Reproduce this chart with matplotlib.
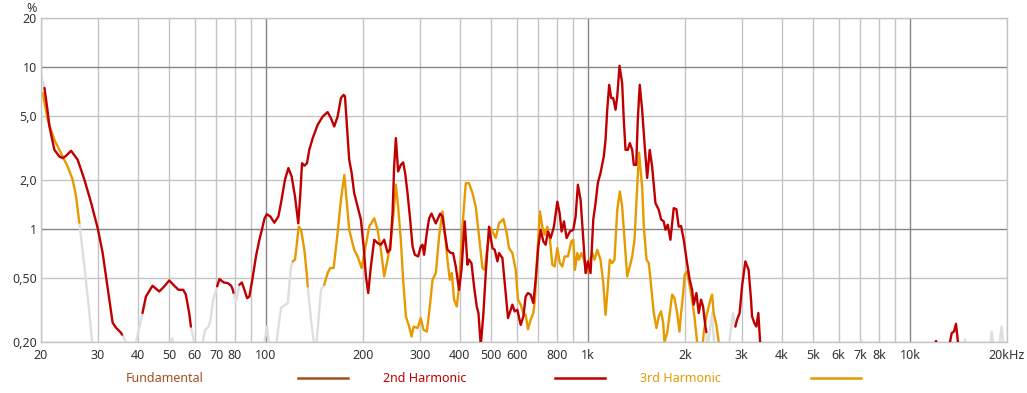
import numpy as np
import matplotlib
matplotlib.use("Agg")
import matplotlib.pyplot as plt
from matplotlib.lines import Line2D
from matplotlib.ticker import NullFormatter, NullLocator, FixedLocator

plt.rcParams['font.family'] = ['Noto Sans', 'DejaVu Sans']

N = None  # segment break

# ---------------- data (frequency in Hz, distortion in %) ----------------
h2_freq = [20.5, 20.94, 21.24, 22.01, 22.81, 23.36, 23.93, 24.80, 25.99, 27.28, 28.61, 29.99, 31.08, 31.84,
           32.60, 33.38, 34.20, 35.44, 35.70, N,
           41.33, 42.36, 44.40, 46.58, 48.29, 50.04, 51.86, 53.47, 55.29, 56.36, 57.70, 58.42, N,
           70.48, 71.64, 73.92, 76.07, 77.89, 78.84, 79.18, N,
           82.64, 84.08, 85.64, 87.32, 88.76, 90.95, 93.11, 95.33, 97.68, 98.79, 100.5, 103.1, 106.1, 109.2,
           111.3, 114.5, 117.3, 120.1, 123.0, 125.4, 125.9, 127.8, 129.3, 131.5, 134.0, 136.2, 139.6, 144.6,
           149.9, 155.3, 159.0, 162.8, 166.8, 170.8, 174.1, 175.8, 178.3, 181.2, 184.4, 187.8, 192.4, 197.0,
           200.9, 204.2, 207.6, 211.6, 216.7, 222.0, 227.3, 232.7, 238.4, 242.9, 247.1, 249.9, 253.0, 257.1,
           262.1, 266.5, 270.3, 275.0, 280.2, 285.0, 289.7, 296.6, 302.4, 306.1, 309.6, 315.6, 320.9, 326.4,
           336.6, 347.1, 353.1, 359.0, 365.9, 374.7, 380.9, 388.3, 397.5, 404.4, 414.0, 422.1, 426.9, 434.3,
           442.5, 451.1, 456.6, 464.2, 473.2, 481.1, 492.5, 504.6, 513.0, 523.0, 529.0, 542.0, 554.9, 564.1,
           582.1, 591.7, 603.2, 617.6, 629.6, 640.0, 650.6, 663.3, 676.2, 687.4, 700.8, 712.4, 726.3, 738.3,
           750.5, 765.2, 783.4, 802.6, 815.9, 827.7, 841.4, 857.8, 878.2, 899.8, 914.7, 929.8, 947.9, 966.4,
           982.3, 998.6, 1018, 1038, 1055, 1072, 1093, 1119, 1133, 1147, 1163, 1180, 1197, 1217, 1232, 1252,
           1276, 1291, 1307, 1328, 1348, 1371, 1387, 1411, 1427, 1447, 1472, 1497, 1526, 1554, 1581, 1619,
           1658, 1686, 1718, 1739, 1768, 1802, 1845, 1881, 1912, 1945, 1982, 2030, 2068, 2104, 2128, 2170,
           2206, 2244, 2276, 2314, 2330, N,
           2867, 2902, 2956, 3007, 3079, 3152, 3207, 3230, 3283, 3331, 3379, 3427, N,
           11900, 12040, 12150, N,
           13240, 13470, 13690, 13890, 14120]
h2_pct = [7.4, 5.43, 4.28, 3.07, 2.79, 2.73, 2.82, 3.03, 2.67, 2.01, 1.45, 1.01, 0.710, 0.508,
          0.365, 0.263, 0.245, 0.228, 0.222, N,
          0.302, 0.382, 0.445, 0.410, 0.441, 0.480, 0.445, 0.420, 0.420, 0.392, 0.302, 0.249, N,
          0.441, 0.489, 0.466, 0.462, 0.445, 0.420, 0.403, N,
          0.451, 0.466, 0.420, 0.373, 0.382, 0.506, 0.681, 0.855, 1.04, 1.15, 1.23, 1.19, 1.09, 1.19,
          1.45, 2.01, 2.37, 2.10, 1.58, 1.14, 1.08, 1.66, 2.54, 2.45, 2.54, 3.07, 3.63, 4.38,
          4.93, 5.25, 4.82, 4.28, 4.93, 6.41, 6.71, 6.56, 4.28, 2.67, 2.21, 1.66, 1.37, 1.14,
          0.778, 0.508, 0.401, 0.585, 0.855, 0.816, 0.797, 0.855, 0.714, 0.742, 1.25, 2.42, 3.63, 2.26,
          2.48, 2.57, 2.21, 1.66, 1.14, 0.778, 0.691, 0.675, 0.778, 0.797, 0.691, 0.941, 1.16, 1.24,
          1.08, 1.24, 1.19, 0.941, 0.742, 0.708, 0.708, 0.585, 0.420, 0.558, 1.11, 0.600, 0.644, 0.614,
          0.441, 0.331, 0.302, 0.19, 0.302, 0.533, 1.03, 0.760, 0.742, 0.629, 0.708, 0.659, 0.401, 0.281,
          0.340, 0.309, 0.316, 0.255, 0.288, 0.382, 0.401, 0.392, 0.348, 0.484, 0.778, 0.986, 0.835, 0.797,
          0.962, 0.876, 1.03, 1.47, 1.25, 0.962, 1.11, 0.876, 0.962, 0.986, 1.19, 1.87, 1.51, 0.855,
          0.533, 0.629, 0.533, 1.14, 1.44, 1.91, 2.21, 2.79, 3.54, 5.43, 7.74, 6.41, 6.41, 5.43, 6.56, 10.14,
          7.93, 4.71, 3.07, 3.07, 3.38, 3.07, 2.48, 2.48, 4.71, 7.74, 5.43, 3.38, 2.06, 3.07, 2.42, 1.44,
          1.31, 1.14, 1.11, 0.986, 1.06, 0.855, 1.34, 1.32, 1.03, 1.04, 0.855, 0.614, 0.484, 0.420, 0.340, 0.401,
          0.302, 0.365, 0.331, 0.249, 0.230, N,
          0.249, 0.274, 0.302, 0.441, 0.629, 0.558, 0.365, 0.288, 0.262, 0.249, 0.302, 0.19, N,
          0.19, 0.203, 0.19, N,
          0.19, 0.227, 0.232, 0.259, 0.19]

h3_freq = [20.25, 20.98, 22.01, 23.36, 24.20, 25.08, 25.70, 26.18, 26.31, N,
           121.0, 123.0, 126.3, 128.4, 131.5, 134.0, 134.7, N,
           151.6, 155.3, 158.2, 162.1, 166.8, 170.8, 175.0, 177.0, 181.2, 187.8, 192.4, 198.0, 202.8, 209.1,
           216.7, 222.0, 227.3, 232.7, 238.4, 244.1, 248.9, 253.0, 257.1, 262.1, 266.5, 271.7, 278.2, 283.0,
           287.1, 295.4, 302.4, 308.3, 315.6, 320.9, 328.9, 336.6, 344.7, 353.1, 359.0, 365.9, 372.0, 377.4,
           383.6, 391.1, 397.5, 407.3, 417.0, 426.9, 437.5, 447.9, 458.6, 469.8, 477.7, 487.0, 498.5, 516.7,
           529.0, 545.9, 558.9, 568.1, 582.1, 596.0, 605.8, 617.6, 629.6, 640.0, 650.6, 663.3, 676.2, 684.0,
           695.9, 708.9, 721.1, 733.1, 747.3, 761.4, 774.5, 787.3, 802.6, 817.6, 831.8, 845.6, 865.7, 887.1,
           899.8, 910.2, 926.0, 936.6, 952.6, 970.6, 989.4, 1006, 1031, 1047, 1068, 1093, 1115, 1133, 1152,
           1168, 1188, 1208, 1232, 1255, 1276, 1298, 1323, 1348, 1371, 1394, 1414, 1440, 1472, 1490, 1519,
           1544, 1570, 1600, 1631, 1658, 1686, 1711, 1727, 1761, 1794, 1825, 1855, 1891, 1922, 1945, 1974,
           1996, 2030, 2068, 2104, 2139, 2181, 2193, N,
           2265, 2286, 2330, 2370, 2398, 2428, 2455, 2503, 2544, 2557]
h3_pct = [6.88, 4.71, 3.54, 2.79, 2.42, 2.01, 1.58, 1.19, 1.09, N,
          0.629, 0.644, 1.03, 0.986, 0.742, 0.508, 0.441, N,
          0.451, 0.533, 0.572, 0.572, 0.941, 1.51, 2.15, 1.66, 0.986, 0.742, 0.675, 0.572, 0.742, 1.03,
          1.16, 0.986, 0.742, 0.508, 0.644, 0.855, 1.25, 1.87, 1.37, 0.855, 0.484, 0.288, 0.249, 0.216,
          0.249, 0.244, 0.281, 0.238, 0.232, 0.302, 0.484, 0.533, 0.896, 1.28, 0.941, 0.644, 0.484, 0.533,
          0.365, 0.331, 0.441, 1.03, 1.91, 1.91, 1.66, 1.37, 0.896, 0.572, 0.558, 0.778, 1.01, 0.876,
          1.08, 1.15, 0.941, 0.760, 0.708, 0.558, 0.365, 0.340, 0.302, 0.294, 0.240, 0.274, 0.302, 0.365,
          0.708, 1.28, 1.03, 0.918, 1.03, 0.855, 0.600, 0.585, 0.760, 0.614, 0.585, 0.675, 0.675, 0.835,
          0.855, 0.558, 0.708, 0.644, 0.708, 0.644, 0.533, 0.614, 0.708, 0.644, 0.742, 0.644, 0.462, 0.294, 0.441,
          0.644, 0.614, 0.644, 1.31, 1.70, 1.37, 0.855, 0.508, 0.585, 0.675, 0.855, 1.51, 2.95, 1.82, 1.03, 0.644,
          0.614, 0.441, 0.302, 0.244, 0.288, 0.309, 0.262, 0.201, 0.227, 0.302, 0.392, 0.373, 0.302, 0.232, 0.302, 0.401,
          0.520, 0.545, 0.441, 0.365, 0.288, 0.201, 0.18, N,
          0.18, 0.228, 0.288, 0.331, 0.365, 0.392, 0.302, 0.255, 0.201, 0.18]

# parts of the curves that lie under the noise floor (drawn light grey)
floor_freq = [20.0, 20.5, N, 35.70, 36.73, 37.0, N, 26.31, 27.28, 28.26, 28.81, 29.0, N,
              38.97, 39.45, 41.33, N, 50.04, 51.1, 52.2, N, 58.42, 59.8, 60.7, N,
              62.86, 64.70, 66.10, 67.05, 68.5, 70.48, N, 79.18, 80.72, 82.64, N,
              98.0, 100.7, 102.5, N, 107.0, 111.3, 116.8, 119.5, 121.0, N,
              134.7, 137.9, 141.2, N, 142.9, 148.1, 151.6, N,
              2330, 2350, N, 2348, 2428, 2468, N, 2727, 2820, 2867, N,
              6950, 7080, 7200, N, 14600, 14810, 15000, N,
              17700, 17920, 18220, N, 18880, 19250, 19560]
floor_pct = [9.0, 7.4, N, 0.222, 0.2, 0.18, N, 1.09, 0.585, 0.303, 0.2, 0.18, N,
             0.18, 0.2, 0.302, N, 0.18, 0.21, 0.18, N, 0.249, 0.2, 0.18, N,
             0.18, 0.238, 0.248, 0.266, 0.365, 0.441, N, 0.403, 0.356, 0.451, N,
             0.18, 0.249, 0.18, N, 0.18, 0.325, 0.348, 0.585, 0.629, N,
             0.441, 0.274, 0.19, N, 0.18, 0.420, 0.451, N,
             0.230, 0.18, N, 0.18, 0.303, 0.18, N, 0.18, 0.302, 0.249, N,
             0.18, 0.205, 0.18, N, 0.18, 0.207, 0.18, N,
             0.18, 0.232, 0.18, N, 0.18, 0.249, 0.18]

x_ticks = [20, 30, 40, 50, 60, 70, 80, 100, 200, 300, 400, 500, 600, 800, 1000,
           2000, 3000, 4000, 5000, 6000, 7000, 8000, 10000, 20000]
x_labels = ['20', '30', '40', '50', '60', '70', '80', '100', '200', '300', '400', '500', '600', '800', '1k',
            '2k', '3k', '4k', '5k', '6k', '7k', '8k', '10k', '20kHz']
x_grid = [20, 30, 40, 50, 60, 70, 80, 90, 200, 300, 400, 500, 600, 700, 800, 900,
          2000, 3000, 4000, 5000, 6000, 7000, 8000, 9000, 20000]
x_major = [100, 1000, 10000]
y_ticks = [0.2, 0.5, 1, 2, 5, 10, 20]
y_labels = ['0,20', '0,50', '1', '2,0', '5,0', '10', '20']
y_major = [1, 10]

series_names = ['Fundamental', '2nd Harmonic', '3rd Harmonic']
series_colors = ['#a0501e', '#c00000', '#e69a00']
floor_color = '#dedede'
light_grid = '#c4c4c4'
dark_grid = '#858585'


def arr(v):
    return np.array([np.nan if a is None else a for a in v], dtype=float)


W, H = 1027, 393
fig = plt.figure(figsize=(W / 100, H / 100), dpi=100)
ax = fig.add_axes([41 / W, 1 - 342 / H, 966 / W, 324 / H])
ax.set_xscale('log')
ax.set_yscale('log')
ax.set_xlim(20, 20000)
ax.set_ylim(0.2, 20)

for f in x_grid:
    ax.axvline(f, color=light_grid, lw=1.0, zorder=0)
for f in x_major:
    ax.axvline(f, color=dark_grid, lw=1.0, zorder=0.5)
for v in y_ticks:
    if v not in y_major:
        ax.axhline(v, color=light_grid, lw=1.0, zorder=0)
for v in y_major:
    ax.axhline(v, color=dark_grid, lw=1.0, zorder=0.5)

ax.plot(arr(floor_freq), arr(floor_pct), color=floor_color, lw=1.7, zorder=1,
        solid_joinstyle='round', solid_capstyle='round')
ax.plot(arr(h3_freq), arr(h3_pct), color=series_colors[2], lw=1.7, zorder=2,
        solid_joinstyle='round', solid_capstyle='round')
ax.plot(arr(h2_freq), arr(h2_pct), color=series_colors[1], lw=1.7, zorder=3,
        solid_joinstyle='round', solid_capstyle='round')

ax.xaxis.set_major_locator(FixedLocator(x_ticks))
ax.set_xticklabels(x_labels)
ax.xaxis.set_minor_locator(NullLocator())
ax.xaxis.set_minor_formatter(NullFormatter())
ax.yaxis.set_major_locator(FixedLocator(y_ticks))
ax.set_yticklabels(y_labels)
ax.yaxis.set_minor_locator(NullLocator())
ax.tick_params(axis='both', length=0, labelsize=9, colors='#333333')
ax.tick_params(axis='x', pad=5)
ax.tick_params(axis='y', pad=3)
for s in ax.spines.values():
    s.set_color(light_grid)
    s.set_linewidth(1.0)

fig.text(32 / W, 1 - 8 / H, '%', fontsize=9, color='#333333', ha='center', va='center')

# legend row
text_x = [165, 425, 680]
line_x = [(298, 348), (555, 605), (811, 861)]
ly = 1 - 378 / H
for name, c, tx, (x0, x1) in zip(series_names, series_colors, text_x, line_x):
    fig.text(tx / W, ly, name, color=c, fontsize=9, ha='center', va='center')
    fig.add_artist(Line2D([x0 / W, x1 / W], [ly, ly], color=c, lw=1.8, transform=fig.transFigure))

fig.savefig('out.png', dpi=100)
